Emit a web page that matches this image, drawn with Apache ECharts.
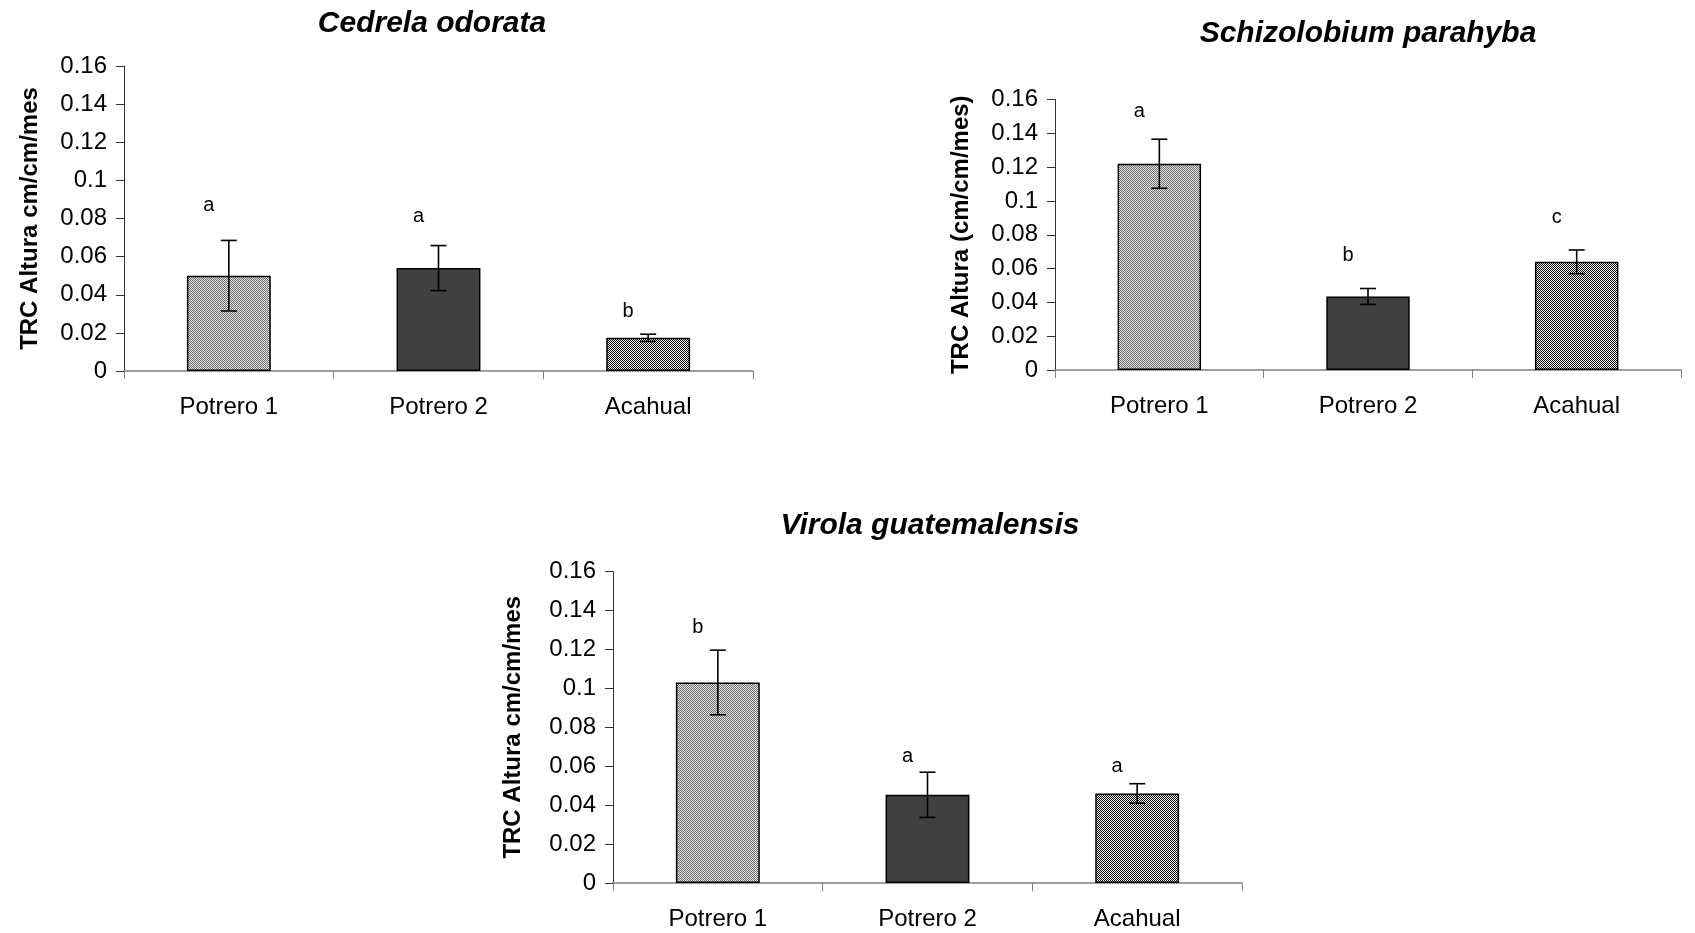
<!DOCTYPE html>
<html>
<head>
<meta charset="utf-8">
<script src="https://cdn.jsdelivr.net/npm/echarts@6/dist/echarts.min.js"></script>
<style>
html,body{margin:0;padding:0;background:#fff;}
#main{width:1695px;height:933px;}
</style>
</head>
<body>
<div id="main"></div>
<script>
// ---- data ----
const categories = ['Potrero 1', 'Potrero 2', 'Acahual'];
const yTicks = [0, 0.02, 0.04, 0.06, 0.08, 0.1, 0.12, 0.14, 0.16];

const titles = ['Cedrela odorata', 'Schizolobium parahyba', 'Virola guatemalensis'];
const yNames = ['TRC Altura cm/cm/mes', 'TRC Altura (cm/cm/mes)', 'TRC Altura cm/cm/mes'];

const cedrelaMean = [0.050, 0.054, 0.0174];
const cedrelaErr = [0.0185, 0.0118, 0.0019];
const cedrelaLetters = ['a', 'a', 'b'];
const cedrelaLetterY = [0.087, 0.081, 0.031];

const schizoMean = [0.122, 0.0435, 0.064];
const schizoErr = [0.0145, 0.0047, 0.007];
const schizoLetters = ['a', 'b', 'c'];
const schizoLetterY = [0.153, 0.068, 0.090];

const virolaMean = [0.103, 0.0453, 0.046];
const virolaErr = [0.0166, 0.0116, 0.005];
const virolaLetters = ['b', 'a', 'a'];
const virolaLetterY = [0.131, 0.065, 0.060];

// ---- styles ----
function checker(c1, c2) {
  const cv = document.createElement('canvas');
  cv.width = 2; cv.height = 2;
  const ctx = cv.getContext('2d');
  ctx.fillStyle = c1; ctx.fillRect(0, 0, 2, 2);
  ctx.fillStyle = c2; ctx.fillRect(0, 0, 1, 1); ctx.fillRect(1, 1, 1, 1);
  return { image: cv, repeat: 'repeat' };
}
const fills = [checker('#e4e4e4', '#707070'), '#404040', checker('#ffffff', '#000000')];

const FONT = "'Liberation Sans', Arial, sans-serif";
const grids = [
  { left: 124, right: 942, top: 66, bottom: 562 },
  { left: 1055, right: 14, top: 99.5, bottom: 563 },
  { left: 613, right: 453, top: 571.5, bottom: 50 }
];
const titlePos = [
  { left: 427, top: 4 },
  { left: 1363, top: 14 },
  { left: 925, top: 506 }
];
const nameGaps = [82, 82, 88];

const sets = [
  { mean: cedrelaMean, err: cedrelaErr, letters: cedrelaLetters, ly: cedrelaLetterY },
  { mean: schizoMean, err: schizoErr, letters: schizoLetters, ly: schizoLetterY },
  { mean: virolaMean, err: virolaErr, letters: virolaLetters, ly: virolaLetterY }
];

const option = {
  backgroundColor: '#ffffff',
  animation: false,
  title: titles.map((t, i) => ({
    text: t, left: titlePos[i].left, top: titlePos[i].top, textAlign: 'center',
    textStyle: { fontFamily: FONT, fontSize: 30, fontWeight: 'bold', fontStyle: 'italic', color: '#000' }
  })),
  grid: grids,
  xAxis: grids.map((g, i) => ({
    type: 'category', gridIndex: i, data: categories, boundaryGap: true,
    axisLine: { lineStyle: { color: '#808080', width: 1.5 } },
    axisTick: { show: true, length: 8, lineStyle: { color: '#808080', width: 1 } },
    axisLabel: { margin: 24, fontFamily: FONT, fontSize: 24, color: '#000' }
  })),
  yAxis: grids.map((g, i) => ({
    type: 'value', gridIndex: i, min: yTicks[0], max: yTicks[yTicks.length - 1], interval: yTicks[1] - yTicks[0],
    name: yNames[i], nameLocation: 'middle', nameGap: nameGaps[i], nameRotate: 90,
    nameTextStyle: { fontFamily: FONT, fontSize: 24, fontWeight: 'bold', color: '#000' },
    axisLine: { show: true, lineStyle: { color: '#333', width: 1 } },
    axisTick: { show: true, length: 8, lineStyle: { color: '#333', width: 1 } },
    splitLine: { show: false },
    axisLabel: { margin: 17, fontFamily: FONT, fontSize: 24, color: '#000' }
  })),
  series: []
};

sets.forEach((s, i) => {
  option.series.push({
    type: 'bar', xAxisIndex: i, yAxisIndex: i, barWidth: '40%',
    data: s.mean.map((v, k) => ({ value: v, itemStyle: { color: fills[k] } })),
    itemStyle: { borderColor: '#000', borderWidth: 1.5 }
  });
  option.series.push({
    type: 'custom', xAxisIndex: i, yAxisIndex: i, z: 5,
    data: s.mean.map((v, k) => [k, v - s.err[k], v + s.err[k]]),
    renderItem: function (params, api) {
      const lo = api.coord([api.value(0), api.value(1)]);
      const hi = api.coord([api.value(0), api.value(2)]);
      const w = 8;
      const st = { stroke: '#000', lineWidth: 1.6 };
      return {
        type: 'group', children: [
          { type: 'line', shape: { x1: hi[0], y1: hi[1], x2: lo[0], y2: lo[1] }, style: st },
          { type: 'line', shape: { x1: hi[0] - w, y1: hi[1], x2: hi[0] + w, y2: hi[1] }, style: st },
          { type: 'line', shape: { x1: lo[0] - w, y1: lo[1], x2: lo[0] + w, y2: lo[1] }, style: st }
        ]
      };
    }
  });
  option.series.push({
    type: 'custom', xAxisIndex: i, yAxisIndex: i, z: 6,
    data: s.ly.map((v, k) => [k, v, s.letters[k]]),
    renderItem: function (params, api) {
      const p = api.coord([api.value(0), api.value(1)]);
      return {
        type: 'text',
        style: {
          text: s.letters[params.dataIndex], x: p[0] - 20, y: p[1],
          align: 'center', verticalAlign: 'middle',
          font: '20px ' + FONT, fill: '#000'
        }
      };
    }
  });
});

const chart = echarts.init(document.getElementById('main'), null, { renderer: 'canvas' });
chart.setOption(option);
</script>
</body>
</html>
